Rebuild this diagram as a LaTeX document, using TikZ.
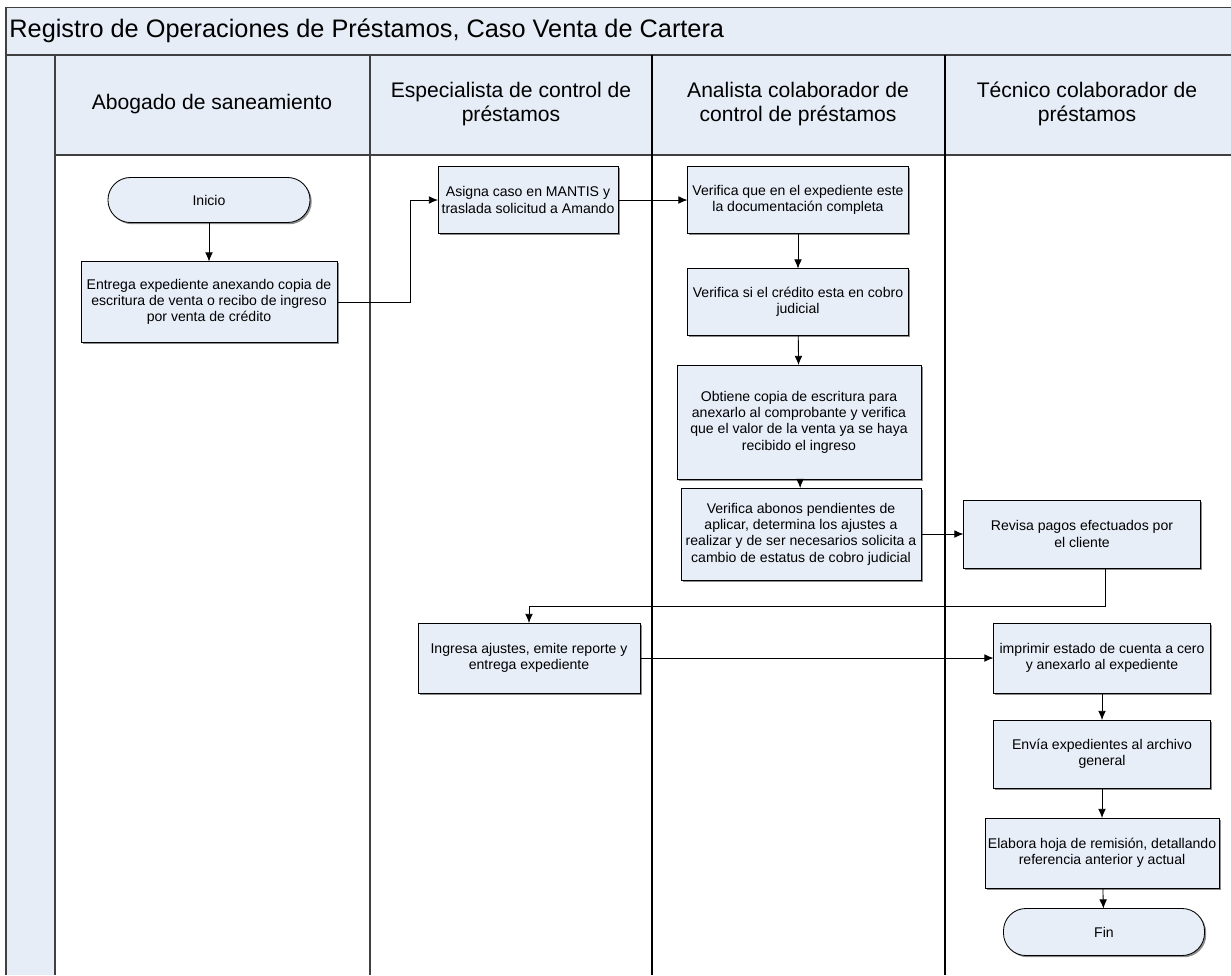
\documentclass[tikz,border=0pt]{standalone}
\usepackage{fontspec}
\setmainfont{Liberation Sans}
\usetikzlibrary{positioning, arrows, arrows.meta, shapes.geometric, shadows}
\usepackage{color}

\definecolor{fondoazul}{RGB}{230,237,247}
\definecolor{cajaazul}{RGB}{232,238,248}
\definecolor{bordegris}{RGB}{64,64,64}

\tikzset{
    paso/.style={draw, line width=0.6pt, fill=cajaazul, align=center, inner sep=2pt, outer sep=0pt,
        font=\fontsize{10}{11.6}\selectfont,
        drop shadow={shadow xshift=1.2pt, shadow yshift=-1.2pt, fill=black!45, opacity=1}},
    extremo/.style={paso, rounded corners=0.56cm},
    carril/.style={align=center, font=\fontsize{15}{16.5}\selectfont},
}

\begin{document}
\begin{tikzpicture}[>={Latex[length=6.5pt, width=5.5pt]}, line width=0.6pt, x=0.025cm, y=-0.025cm]
    \useasboundingbox (0,0) rectangle (1231,975);

    % fondo de carriles
    \fill[fondoazul] (6,7) rectangle (1231,55);
    \fill[fondoazul] (6,55) rectangle (55,975);
    \fill[fondoazul] (55,55) rectangle (1231,155);
    \draw[bordegris, line width=0.6pt] (6,7) -- (1231,7);
    \draw[bordegris, line width=1pt] (6,55) -- (1231,55);
    \draw[bordegris, line width=1pt] (55,155) -- (1231,155);
    \draw[bordegris, line width=1.4pt] (6,7) -- (6,975);
    \draw[bordegris, line width=1.4pt] (55,55) -- (55,975);
    \draw[bordegris, line width=1.4pt] (370,55) -- (370,975);
    \foreach \x in {652,945}
        \draw[line width=0.9pt] (\x,55) -- (\x,975);

    \node [anchor=west, inner sep=0pt, font=\fontsize{18}{20}\selectfont] (titulo) at (9,31)
        {Registro de Operaciones de Préstamos, Caso Venta de Cartera};

    \node [carril] (abogado) at (212,104) {Abogado de saneamiento};
    \node [carril] (especialista) at (511,104) {Especialista de control de\\préstamos};
    \node [carril] (analista) at (798,104) {Analista colaborador de\\control de préstamos};
    \node [carril] (tecnico) at (1087,104) {Técnico colaborador de\\préstamos};

    % pasos
    \node [extremo, minimum width=5.05cm, minimum height=1.125cm] (inicio) at (209,200) {Inicio};

    \node [paso, minimum width=6.4cm, minimum height=2.025cm] (entrega) at (209,302)
        {Entrega expediente anexando copia de\\escritura de venta o recibo de ingreso\\por venta de crédito};

    \node [paso, minimum width=4.5cm, minimum height=1.675cm] (asigna) at (528,200)
        {Asigna caso en MANTIS y\\traslada solicitud a Amando};

    \node [paso, minimum width=5.525cm, minimum height=1.675cm] (verifica) at (798,200)
        {Verifica que en el expediente este\\la documentación completa};

    \node [paso, minimum width=5.525cm, minimum height=1.675cm,
        below=0.875cm of verifica] (cobro)
        {Verifica si el crédito esta en cobro\\judicial};

    \node [paso, minimum width=6.1cm, minimum height=2.85cm] (obtiene) at (799,422)
        {Obtiene copia de escritura para\\anexarlo al comprobante y verifica\\que el valor de la venta ya se haya\\recibido el ingreso};

    \node [paso, minimum width=6.0cm, minimum height=2.3cm] (abonos) at (801,534)
        {Verifica abonos pendientes de\\aplicar, determina los ajustes a\\realizar y de ser necesarios solicita a\\cambio de estatus de cobro judicial};

    \node [paso, minimum width=5.925cm, minimum height=1.7cm] (revisa) at (1082,534)
        {Revisa pagos efectuados por\\el cliente};

    \node [paso, minimum width=5.55cm, minimum height=1.75cm] (ingresa) at (529,658)
        {Ingresa ajustes, emite reporte y\\entrega expediente};

    \node [paso, minimum width=5.425cm, minimum height=1.75cm] (imprimir) at (1102,658)
        {imprimir estado de cuenta a cero\\y anexarlo al expediente};

    \node [paso, minimum width=5.425cm, minimum height=1.7cm] (envia) at (1102,754)
        {Envía expedientes al archivo\\general};

    \node [paso, minimum width=5.85cm, minimum height=1.75cm] (elabora) at (1102,853)
        {Elabora hoja de remisión, detallando\\referencia anterior y actual};

    \node [extremo, minimum width=5.025cm, minimum height=1.175cm] (fin) at (1104,932) {Fin};

    % conectores
    \coordinate (giro) at (410,0);
    \coordinate (bajada) at (1105,606);

    \draw [->] (inicio) -- (entrega);
    \draw [->] (entrega.east) -- (entrega.east -| giro) |- (asigna.west);
    \draw [->] (asigna) -- (verifica);
    \draw [->] (verifica) -- (cobro);
    \draw [->] (cobro) -- (obtiene);
    \draw [->] (obtiene) -- (abonos);
    \draw [->] (abonos) -- (revisa);
    \draw [->] (bajada |- revisa.south) -- (bajada) -| (ingresa.north);
    \draw [->] (ingresa) -- (imprimir);
    \draw [->] (imprimir) -- (envia);
    \draw [->] (envia) -- (elabora);
    \draw [->] (elabora) -- (fin);
\end{tikzpicture}
\end{document}
